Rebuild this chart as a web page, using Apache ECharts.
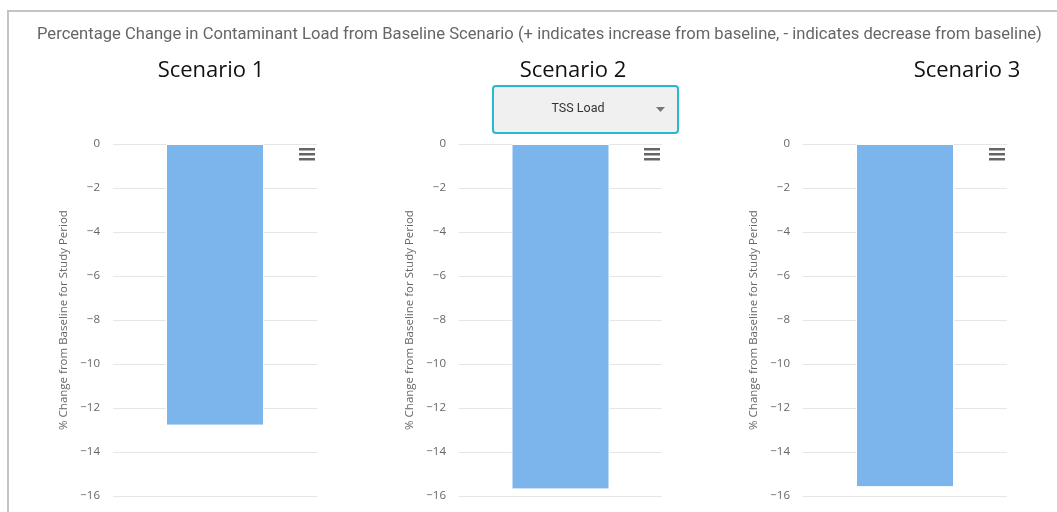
<!DOCTYPE html>
<html>
<head>
<meta charset="utf-8">
<style>
  html, body { margin: 0; padding: 0; background: #fff; }
  #chart { width: 1057px; height: 512px; }
</style>
<script src="https://cdn.jsdelivr.net/npm/echarts@6/dist/echarts.min.js"></script>
</head>
<body>
<div id="chart"></div>
<script>
// Scenario data: percentage change in TSS load relative to the baseline run
const scenarioNames = ['Scenario 1', 'Scenario 2', 'Scenario 3'];
const categories = ['TSS Load'];
const scenario1 = [-12.8];
const scenario2 = [-15.7];
const scenario3 = [-15.6];
const seriesValues = [scenario1, scenario2, scenario3];
const yTicks = { min: -16, max: 0, step: 2 };
const mainTitle = 'Percentage Change in Contaminant Load from Baseline Scenario (+ indicates increase from baseline, - indicates decrease from baseline)';
const axisTitle = '% Change from Baseline for Study Period';
const selectedPollutant = 'TSS Load';

// Panel placement (pixels)
const panels = [
  { left: 113, width: 204, titleX: 206 },
  { left: 459, width: 203, titleX: 568 },
  { left: 803, width: 204, titleX: 962 }
];
const gridTop = 144, gridBottom = 16;

const chart = echarts.init(document.getElementById('chart'), null, { renderer: 'canvas' });

const grids = [], xAxes = [], yAxes = [], series = [], titles = [], graphics = [];

titles.push({
  text: mainTitle, left: 32, top: 21,
  textStyle: { fontFamily: 'Roboto', fontSize: 16.6, fontWeight: 'normal', color: '#666666' }
});

panels.forEach((p, i) => {
  grids.push({ left: p.left, width: p.width, top: gridTop, bottom: gridBottom, containLabel: false });
  xAxes.push({
    type: 'category', gridIndex: i, data: categories,
    show: false, boundaryGap: true
  });
  yAxes.push({
    type: 'value', gridIndex: i,
    min: yTicks.min, max: yTicks.max, interval: yTicks.step,
    axisLine: { show: false }, axisTick: { show: false },
    splitLine: { show: true, lineStyle: { color: '#e6e6e6', width: 1 } },
    axisLabel: {
      margin: 13, color: '#666666', fontFamily: 'Open Sans', fontSize: 11.5,
      formatter: v => (v < 0 ? '\u2212' + Math.abs(v) : String(v))
    },
    name: axisTitle, nameLocation: 'middle', nameGap: 43, nameRotate: 90,
    nameTextStyle: { color: '#666666', fontFamily: 'Open Sans', fontSize: 11.5 }
  });
  series.push({
    type: 'bar', name: scenarioNames[i], xAxisIndex: i, yAxisIndex: i,
    data: seriesValues[i], barWidth: 98,
    itemStyle: { color: '#7cb5ec', borderColor: '#ffffff', borderWidth: 1 },
    emphasis: { disabled: true }
  });
  titles.push({
    text: scenarioNames[i], left: p.titleX, top: 55, textAlign: 'center',
    textStyle: { fontFamily: 'Open Sans', fontSize: 22, fontWeight: 'normal', color: '#111111' }
  });
  // context menu icon (three bars) at the top right of each panel
  const mx = p.left + p.width - 18, my = 148;
  [0, 5, 10].forEach(dy => {
    graphics.push({
      type: 'rect', left: mx, top: my + dy, z: 10,
      shape: { width: 16, height: 2.5 },
      style: { fill: '#666666' }
    });
  });
});

// outer frame
graphics.push({
  type: 'polyline', z: 5,
  shape: { points: [[8, 512], [8, 11], [1057, 11]] },
  style: { stroke: '#c4c4c4', lineWidth: 2, fill: null }
});

// pollutant selector
graphics.push({
  type: 'group', left: 492, top: 85, z: 20,
  children: [
    { type: 'rect', shape: { x: 1, y: 1, width: 185, height: 47, r: 3 },
      style: { fill: '#f0f0f0', stroke: '#27b9cf', lineWidth: 2 } },
    { type: 'text', x: 86, y: 24,
      style: { text: selectedPollutant, fill: '#333333', font: '12.5px Roboto', textAlign: 'center', textVerticalAlign: 'middle' } },
    { type: 'polygon', shape: { points: [[164, 22], [173, 22], [168.5, 27]] },
      style: { fill: '#777777' } }
  ]
});

chart.setOption({
  animation: false,
  backgroundColor: '#ffffff',
  title: titles,
  grid: grids,
  xAxis: xAxes,
  yAxis: yAxes,
  series: series,
  tooltip: { show: false },
  graphic: graphics
});
</script>
</body>
</html>
